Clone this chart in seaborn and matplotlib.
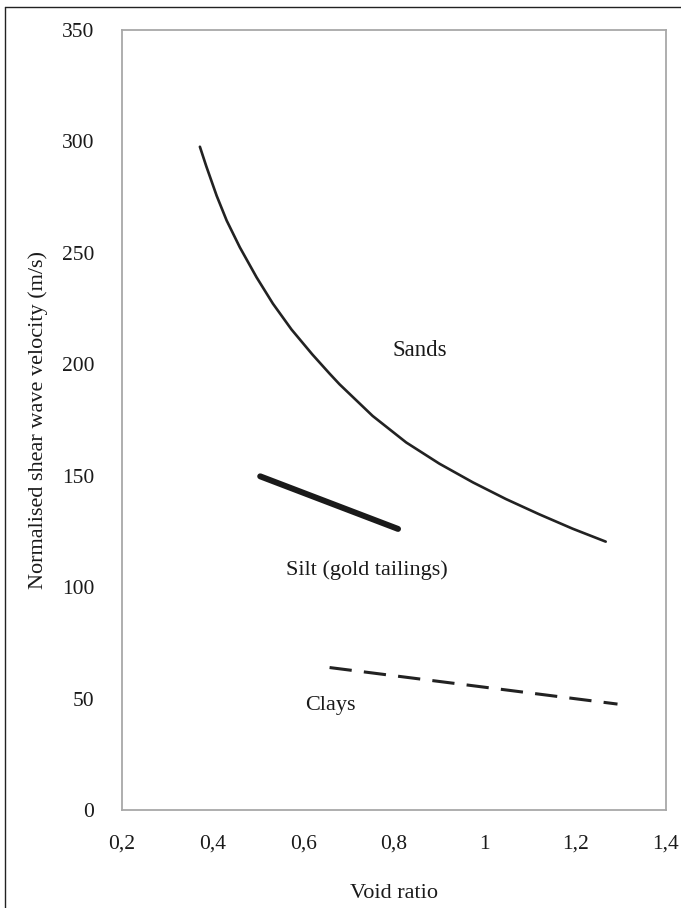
import numpy as np
import pandas as pd
import matplotlib.pyplot as plt
from matplotlib.lines import Line2D
import seaborn as sns

# values
sands_x = [0.372, 0.386, 0.409, 0.431, 0.460, 0.497, 0.533, 0.574, 0.620, 0.658,
           0.680, 0.753, 0.827, 0.900, 0.974, 1.047, 1.120, 1.194, 1.267]
sands_y = [297.6, 288.9, 275.6, 264.5, 252.5, 239.0, 227.2, 215.6, 204.4, 195.8,
           191.0, 176.8, 164.9, 155.4, 147.0, 139.5, 132.7, 126.2, 120.4]
silt_x = [0.505, 0.809]
silt_y = [149.7, 126.1]
clays_x = [0.658, 1.293]
clays_y = [63.9, 47.5]

x_ticks = [0.2, 0.4, 0.6, 0.8, 1.0, 1.2, 1.4]
x_tick_labels = ["0,2", "0,4", "0,6", "0,8", "1", "1,2", "1,4"]
y_ticks = [0, 50, 100, 150, 200, 250, 300, 350]

sns.set_theme(style="white")
plt.rcParams['font.family'] = ['Liberation Serif', 'DejaVu Serif']

fig = plt.figure(figsize=(6.81, 9.08), dpi=100)
ax = fig.add_axes([0.179, 0.108, 0.799, 0.859])

df_sands = pd.DataFrame({"e": sands_x, "v": sands_y})
df_silt = pd.DataFrame({"e": silt_x, "v": silt_y})
df_clays = pd.DataFrame({"e": clays_x, "v": clays_y})

sns.lineplot(data=df_sands, x="e", y="v", ax=ax, color="#222222", linewidth=1.9, sort=False)
sns.lineplot(data=df_silt, x="e", y="v", ax=ax, color="#1a1a1a", linewidth=4.3, sort=False)
sns.lineplot(data=df_clays, x="e", y="v", ax=ax, color="#222222", linewidth=2.2,
             sort=False, dashes=False)
ax.lines[-1].set_dashes((7.3, 4))
ax.lines[0].set_solid_joinstyle("round")

ax.set_xlim(0.2, 1.4)
ax.set_ylim(0, 350)
ax.set_xticks(x_ticks)
ax.set_xticklabels(x_tick_labels)
ax.set_yticks(y_ticks)

for s in ax.spines.values():
    s.set_color("#a8a8a8")
    s.set_linewidth(1.3)
ax.tick_params(direction="in", length=5, width=1, color="#a8a8a8",
               labelsize=15.5, labelcolor="#1a1a1a")
ax.tick_params(axis="y", pad=20)
ax.tick_params(axis="x", pad=18)

ax.set_xlabel("Void ratio", fontsize=16, labelpad=22, color="#1a1a1a")
ax.set_ylabel("Normalised shear wave velocity (m/s)", fontsize=16, labelpad=10, color="#1a1a1a")

ax.text(0.797, 206.1, "Sands", fontsize=16.5, ha="left", va="center", color="#1a1a1a")
ax.text(0.563, 107.7, "Silt (gold tailings)", fontsize=16, ha="left", va="center", color="#1a1a1a")
ax.text(0.603, 46.7, "Clays", fontsize=16, ha="left", va="center", color="#1a1a1a")

# scan frame: only top and left edges show in the reference
fig.add_artist(Line2D([5 / 681, 5 / 681], [0, 1 - 7 / 908], transform=fig.transFigure,
                      color="#222222", linewidth=1.0))
fig.add_artist(Line2D([5 / 681, 1], [1 - 7 / 908, 1 - 7 / 908], transform=fig.transFigure,
                      color="#222222", linewidth=1.0))

fig.savefig("out.png", dpi=100)
